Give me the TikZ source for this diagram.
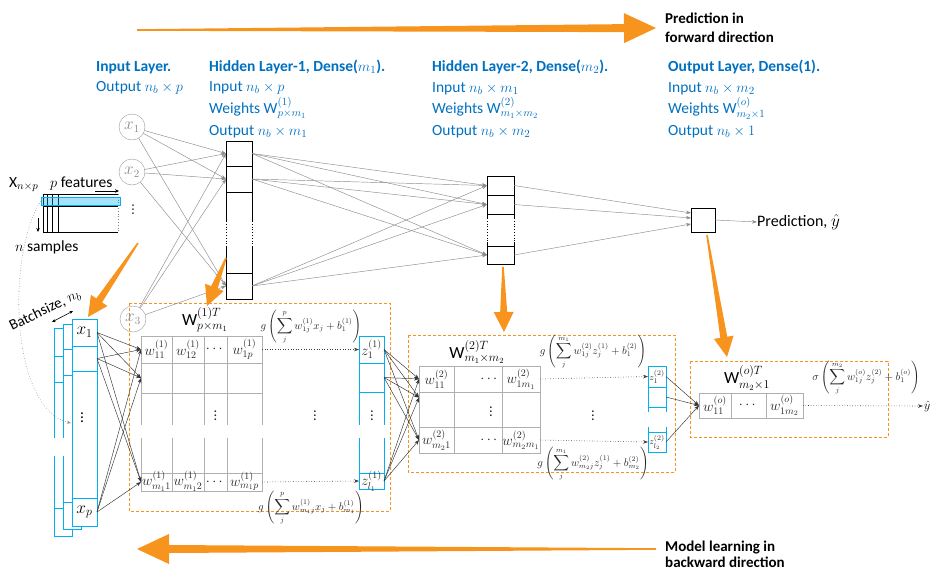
\documentclass[tikz,border=0pt]{standalone}
\usepackage{amsmath}
\usepackage{fontspec}
\setmainfont{Carlito}
\usetikzlibrary{calc,arrows.meta}
\definecolor{obar}{RGB}{247,148,29}
\definecolor{lblue}{RGB}{0,112,192}
\definecolor{cyanb}{RGB}{0,176,240}
\definecolor{gridc}{RGB}{175,175,175}
\newcommand{\myfs}[1]{\fontsize{#1}{#1}\selectfont}
\newcommand{\fatarrow}[6]{%
  \coordinate (fa-h) at ($(#2)!#6!(#1)$);
  \fill[obar] ($(#1)!#3!90:(#2)$) -- ($(fa-h)!#4!-90:(#1)$) -- ($(fa-h)!#5!-90:(#1)$) -- (#2)
    -- ($(fa-h)!#5!90:(#1)$) -- ($(fa-h)!#4!90:(#1)$) -- ($(#1)!#3!-90:(#2)$) -- cycle;}
\begin{document}
\begin{tikzpicture}[x=1pt,y=-1pt,
  gconn/.style={draw=black!45, line width=0.45pt, -{Stealth[length=5pt,width=3.6pt]}},
  dconn/.style={draw=black!80, line width=0.45pt, -{Stealth[length=5pt,width=3.6pt]}},
  dotarr/.style={draw=black!75, dotted, line width=0.6pt, -{Stealth[length=5pt,width=3.6pt]}},
  hcell/.style={draw=black, line width=0.8pt, fill=white, inner sep=0pt, outer sep=0pt},
  bcell/.style={draw=cyanb, line width=0.9pt, fill=white, inner sep=0pt, outer sep=0pt},
  gcell/.style={draw=gridc, line width=0.9pt, inner sep=0pt, outer sep=0pt},
  incirc/.style={circle, draw=black!40, text=black!45, minimum size=26pt, inner sep=0pt, font=\myfs{16}},
  dashbox/.style={draw=obar, dash pattern=on 3pt off 2pt, line width=0.8pt},
  hdr/.style={anchor=base west, text=lblue, font=\myfs{15.5}, inner sep=0pt},
  hdrb/.style={anchor=base west, text=lblue, font=\myfs{15.5}\bfseries, inner sep=0pt},
  cellt/.style={inner sep=0pt, font=\myfs{14.5}, text=black!85},
  frm/.style={inner sep=0pt, font=\myfs{10.5}, text=black!85},
  blk/.style={anchor=base west, inner sep=0pt, font=\myfs{15}\bfseries},
  plain/.style={inner sep=0pt, font=\myfs{15.5}},
]
\useasboundingbox (0,0) rectangle (934,571);

% ---------- big direction arrows ----------
\coordinate (ta1) at (137,30); \coordinate (ta2) at (656,28);
\fatarrow{ta1}{ta2}{0.8pt}{4pt}{15pt}{32pt}
\node[blk] (fwd1) at (665,23) {Prediction in};
\node[blk] (fwd2) at (665,42) {forward direction};
\coordinate (ba1) at (656,549); \coordinate (ba2) at (137,549);
\fatarrow{ba1}{ba2}{0.8pt}{4pt}{15pt}{32pt}
\node[blk] (bwd1) at (665,551) {Model learning in};
\node[blk] (bwd2) at (665,567) {backward direction};

% ---------- headers ----------
\node[hdrb] (hi1) at (96,71) {Input Layer.};
\node[hdr]  (hi2) at (96,91) {Output $n_b\times p$};
\node[hdrb] (hh1) at (209,71) {Hidden Layer-1, Dense($m_1$).};
\node[hdr]  (hh2) at (209,91) {Input $n_b\times p$};
\node[hdr]  (hh3) at (209,113) {Weights $\mathrm{W}^{(1)}_{p\times m_1}$};
\node[hdr]  (hh4) at (209,135) {Output $n_b\times m_1$};
\node[hdrb] (hk1) at (432,71) {Hidden Layer-2, Dense($m_2$).};
\node[hdr]  (hk2) at (432,92) {Input $n_b\times m_1$};
\node[hdr]  (hk3) at (432,113) {Weights $\mathrm{W}^{(2)}_{m_1\times m_2}$};
\node[hdr]  (hk4) at (432,135) {Output $n_b\times m_2$};
\node[hdrb] (ho1) at (668,71) {Output Layer, Dense(1).};
\node[hdr]  (ho2) at (668,92) {Input $n_b\times m_2$};
\node[hdr]  (ho3) at (668,113) {Weights $\mathrm{W}^{(o)}_{m_2\times 1}$};
\node[hdr]  (ho4) at (668,135) {Output $n_b\times 1$};

% ---------- X matrix ----------
\node[plain, anchor=base west] (xlab) at (9,187) {$\mathrm{X}_{n\times p}$};
\node[plain, anchor=base west] (pfeat) at (50,187) {$p$ features};
\node[plain, anchor=base west] (nsamp) at (15,251) {$n$ samples};
\coordinate (pa1) at (95,191); \coordinate (pa2) at (119,191);
\draw[line width=0.6pt, -{Stealth[length=4pt,width=3.5pt]}] (pa1) -- (pa2);
\coordinate (na1) at (38,218); \coordinate (na2) at (38,232);
\draw[line width=0.6pt, -{Stealth[length=4pt,width=3.5pt]}] (na1) -- (na2);
\draw[line width=0.8pt] (118,194) -- (43,194) -- (43,232) -- (118,232);
\draw[black!50, dotted, line width=0.8pt] (118,194) -- (118,232);
\foreach \xx in {47,52,58} \draw[line width=0.8pt] (\xx,194) -- (\xx,232);
\draw[line width=0.8pt] (43,206.5) -- (118,206.5);
\node[draw=cyanb, fill=cyanb, fill opacity=0.35, draw opacity=1, minimum width=79pt, minimum height=8pt, inner sep=0pt, line width=0.8pt] (band) at (80.5,201) {};
\node[plain, text=black!70] (xdots) at (133,207) {$\vdots$};

% ---------- input circles ----------
\node[incirc] (x1) at (132,127) {$x_1$};
\node[incirc] (x2) at (132,172) {$x_2$};

% ---------- hidden layer 1 ----------
\node[hcell, minimum width=26pt, minimum height=25pt] (h1a) at (239,153.5) {};
\node[hcell, minimum width=26pt, minimum height=26pt] (h1b) at (239,179) {};
\node[hcell, minimum width=26pt, minimum height=81pt] (h1c) at (239,232.5) {};
\node[hcell, minimum width=26pt, minimum height=26pt] (h1d) at (239,286) {};
\fill[white] (224.5,221) rectangle (227.5,247); \fill[white] (250.5,221) rectangle (253.5,247);
\draw[black, dotted, line width=0.8pt] (226,221) -- (226,247) (252,221) -- (252,247);

% ---------- hidden layer 2 ----------
\node[hcell, minimum width=27pt, minimum height=19pt] (h2a) at (500.5,185.5) {};
\node[hcell, minimum width=27pt, minimum height=19pt] (h2b) at (500.5,204.5) {};
\node[hcell, minimum width=27pt, minimum height=32pt] (h2c) at (500.5,230) {};
\node[hcell, minimum width=27pt, minimum height=18pt] (h2d) at (500.5,255) {};
\fill[white] (485.5,218) rectangle (488.5,242); \fill[white] (512.5,218) rectangle (515.5,242);
\draw[black, dotted, line width=0.8pt] (487,218) -- (487,242) (514,218) -- (514,242);

% ---------- output neuron ----------
\node[hcell, minimum size=24pt] (ob) at (703,220) {};
\node[plain, font=\myfs{16}, anchor=west] (pred) at (757,222) {Prediction, $\hat{y}$};

% ---------- bottom: dashed boxes ----------
\draw[dashbox] (129,303) rectangle (390,511);
\draw[dashbox] (408,335) rectangle (675,472);
\draw[dashbox] (690,361) rectangle (888,437);

\node[incirc] (x3) at (133,319) {$x_3$};

% ---------- upper connections ----------
\foreach \s in {x1,x2,x3} \foreach \t in {h1a,h1b,h1d} \draw[gconn] (\s) -- (\t.west);
\foreach \s in {h1a,h1b,h1d} \foreach \t in {h2a,h2b,h2d} \draw[gconn] (\s.east) -- (\t.west);
\draw[gconn] (h2a.east) -- ([yshift=7pt]ob.west);
\draw[gconn] (h2b.east) -- ([yshift=2pt]ob.west);
\draw[gconn] (h2d.east) -- ([yshift=-4pt]ob.west);
\draw[gconn] (ob.east) -- (pred.west);

% ---------- batch stack ----------
\draw[bcell] (54,328) rectangle (72,536);
\foreach \yy in {356,382,508} \draw[cyanb, line width=0.9pt] (54,\yy) -- (72,\yy);
\draw[bcell] (63,324) rectangle (81,529);
\foreach \yy in {349,375,502} \draw[cyanb, line width=0.9pt] (63,\yy) -- (81,\yy);
\fill[white] (52.5,438) rectangle (55.5,456); \fill[white] (61.5,438) rectangle (64.5,456);
\node[bcell, minimum width=25pt, minimum height=27pt] (b1) at (84.5,332.5) {};
\node[bcell, minimum width=25pt, minimum height=25pt] (b2) at (84.5,358.5) {};
\node[bcell, minimum width=25pt, minimum height=127pt] (b3) at (84.5,434.5) {};
\node[bcell, minimum width=25pt, minimum height=28pt] (b4) at (84.5,512) {};
\node[plain, font=\myfs{18}] (b1t) at (b1) {$x_1$};
\node[plain] (b3t) at (82,415) {$\vdots$};
\node[plain, font=\myfs{18}] (b4t) at (b4) {$x_p$};
\node[plain, font=\myfs{15}, rotate=26, anchor=base west] (bsz) at (12,331) {Batchsize, $n_b$};
\coordinate (bs1) at (52,322); \coordinate (bs2) at (73,311);
\draw[line width=0.6pt, {Stealth[length=3.5pt,width=3pt]}-{Stealth[length=3.5pt,width=3pt]}] (bs1) -- (bs2);
\coordinate (cend) at (71,423);
\draw[black!45, dotted, line width=0.6pt, -{Stealth[length=4pt,width=3pt]}] (band.west) .. controls (5,260) and (12,410) .. (cend);

% ---------- W1 ----------
\node[plain, font=\myfs{17}] (w1lab) at (205,320) {$\mathrm{W}^{(1)T}_{p\times m_1}$};
\node[gcell, minimum width=121pt, minimum height=27pt] (w1r1) at (201.5,349.5) {};
\node[gcell, minimum width=121pt, minimum height=30pt] (w1r2) at (201.5,378) {};
\node[gcell, minimum width=121pt, minimum height=80pt] (w1r3) at (201.5,433) {};
\node[gcell, minimum width=121pt, minimum height=18pt] (w1r4) at (201.5,482) {};
\foreach \xx in {172,204,227} \draw[gridc, line width=0.9pt] (\xx,336) -- (\xx,491);
\foreach \xx in {141,172,204,227,262} \fill[white] (\xx-1.5,425) rectangle (\xx+1.5,438);
\node[cellt] (c111) at (156.5,349.5) {$w^{(1)}_{11}$};
\node[cellt] (c112) at (188,349.5) {$w^{(1)}_{12}$};
\node[cellt] (c113) at (215.5,349.5) {$\cdots$};
\node[cellt] (c114) at (244.5,349.5) {$w^{(1)}_{1p}$};
\node[cellt] (c133) at (215.5,413) {$\vdots$};
\node[cellt] (c141) at (156.5,481) {$w^{(1)}_{m_11}$};
\node[cellt] (c142) at (188,481) {$w^{(1)}_{m_12}$};
\node[cellt] (c143) at (215.5,482) {$\cdots$};
\node[cellt] (c144) at (244.5,481) {$w^{(1)}_{m_1p}$};

% ---------- z1 ----------
\node[bcell, minimum width=25pt, minimum height=27pt] (z1a) at (371.5,349.5) {};
\node[bcell, minimum width=25pt, minimum height=29pt] (z1b) at (371.5,377.5) {};
\node[bcell, minimum width=25pt, minimum height=81pt] (z1c) at (371.5,432.5) {};
\node[bcell, minimum width=25pt, minimum height=16pt] (z1d) at (371.5,481) {};
\fill[white] (357.5,425) rectangle (360.5,438); \fill[white] (382.5,425) rectangle (385.5,438);
\node[cellt] (z1at) at (z1a) {$z^{(1)}_1$};
\node[cellt] (z1ct) at (372,413) {$\vdots$};
\node[cellt] (z1dt) at (z1d) {$z^{(1)}_{l_1}$};
\draw[dotarr] (w1r1.east) -- (z1a.west);
\draw[dotarr] (w1r4.east) -- (z1d.west);
\node[cellt] (m1dots) at (315,413) {$\vdots$};
\node[frm] (f1t) at (311,327) {$\displaystyle g\left(\sum_{j}^{p} w_{1j}^{(1)}x_j+b_1^{(1)}\right)$};
\node[frm] (f1b) at (311,508) {$\displaystyle g\left(\sum_{j}^{p} w_{m_1j}^{(1)}x_j+b_{m_1}^{(1)}\right)$};

% batch -> W1
\foreach \s in {b1,b2,b4} \foreach \t in {w1r1,w1r2,w1r4} \draw[dconn] (\s.east) -- (\t.west);

% ---------- W2 ----------
\node[plain, font=\myfs{17}] (w2lab) at (477,352) {$\mathrm{W}^{(2)T}_{m_1\times m_2}$};
\node[gcell, minimum width=121pt, minimum height=26pt] (w2r1) at (479.5,379) {};
\node[gcell, minimum width=121pt, minimum height=35pt] (w2r2) at (479.5,409.5) {};
\node[gcell, minimum width=121pt, minimum height=26pt] (w2r3) at (479.5,440) {};
\foreach \xx in {454,502} \draw[gridc, line width=0.9pt] (\xx,366) -- (\xx,453);
\node[cellt] (c211) at (436.5,379) {$w^{(2)}_{11}$};
\node[cellt] (c212) at (490,379) {$\cdots$};
\node[cellt] (c213) at (521,379) {$w^{(2)}_{1m_1}$};
\node[cellt] (c222) at (491,409) {$\vdots$};
\node[cellt] (c231) at (436.5,440) {$w^{(2)}_{m_21}$};
\node[cellt] (c232) at (490,440) {$\cdots$};
\node[cellt] (c233) at (521,440) {$w^{(2)}_{m_2m_1}$};

% ---------- z2 ----------
\node[bcell, minimum width=18pt, minimum height=21pt] (z2a) at (657,376.5) {};
\node[bcell, minimum width=18pt, minimum height=20pt] (z2b) at (657,397) {};
\node[bcell, minimum width=18pt, minimum height=25pt] (z2c) at (657,419.5) {};
\node[bcell, minimum width=18pt, minimum height=20pt] (z2d) at (657,442) {};
\fill[white] (646.5,412) rectangle (649.5,427); \fill[white] (664.5,412) rectangle (667.5,427);
\node[frm, font=\myfs{9.5}] (z2at) at (z2a) {$z^{(2)}_1$};
\node[frm, font=\myfs{9.5}] (z2dt) at (z2d) {$z^{(2)}_{l_2}$};
\draw[dotarr] (w2r1.east) -- (z2a.west);
\draw[dotarr] (w2r3.east) -- (z2d.west);
\node[cellt] (m2dots) at (593,413) {$\vdots$};
\node[frm] (f2t) at (593,352) {$\displaystyle g\left(\sum_{j}^{m_1} w_{1j}^{(2)}z_j^{(1)}+b_1^{(2)}\right)$};
\node[frm] (f2b) at (593,464) {$\displaystyle g\left(\sum_{j}^{m_1} w_{m_2j}^{(2)}z_j^{(1)}+b_{m_2}^{(2)}\right)$};

% z1 -> W2
\foreach \s in {z1a,z1b,z1d} {
  \draw[dconn] (\s.east) -- (w2r1.west);
  \draw[dconn] (\s.east) -- ([yshift=12pt]w2r2.west);
  \draw[dconn] (\s.east) -- (w2r3.west);
}

% ---------- Wo ----------
\node[plain, font=\myfs{17}] (wolab) at (747,378) {$\mathrm{W}^{(o)T}_{m_2\times 1}$};
\node[gcell, minimum width=104pt, minimum height=25pt] (wor) at (751,405.5) {};
\foreach \xx in {731,766} \draw[gridc, line width=0.9pt] (\xx,393) -- (\xx,418);
\node[cellt] (co1) at (715,405.5) {$w^{(o)}_{11}$};
\node[cellt] (co2) at (748.5,405.5) {$\cdots$};
\node[cellt] (co3) at (784.5,405.5) {$w^{(o)}_{1m_2}$};
\node[plain, font=\myfs{13}, anchor=west, inner sep=1pt] (yhat) at (923,406) {$\hat{y}$};
\draw[dotarr] (wor.east) -- (yhat.west);
\node[frm] (fo) at (866,378) {$\displaystyle \sigma\left(\sum_{j}^{m_2} w_{1j}^{(o)}z_j^{(2)}+b_1^{(o)}\right)$};
\foreach \s in {z2a,z2b,z2d} \draw[dconn] (\s.east) -- (wor.west);

% ---------- orange down arrows ----------
\coordinate (oa1) at (138,243); \coordinate (ob1) at (88,317);
\fatarrow{oa1}{ob1}{0.8pt}{3.5pt}{10pt}{20pt}
\coordinate (oa2) at (226,258); \coordinate (ob2) at (207,306);
\fatarrow{oa2}{ob2}{0.8pt}{3.5pt}{10pt}{20pt}
\coordinate (oa3) at (503,267); \coordinate (ob3) at (504,332);
\fatarrow{oa3}{ob3}{0.8pt}{3.5pt}{10pt}{20pt}
\coordinate (oa4) at (707,235); \coordinate (ob4) at (727,357);
\fatarrow{oa4}{ob4}{0.8pt}{3.5pt}{10pt}{20pt}
\end{tikzpicture}
\end{document}
